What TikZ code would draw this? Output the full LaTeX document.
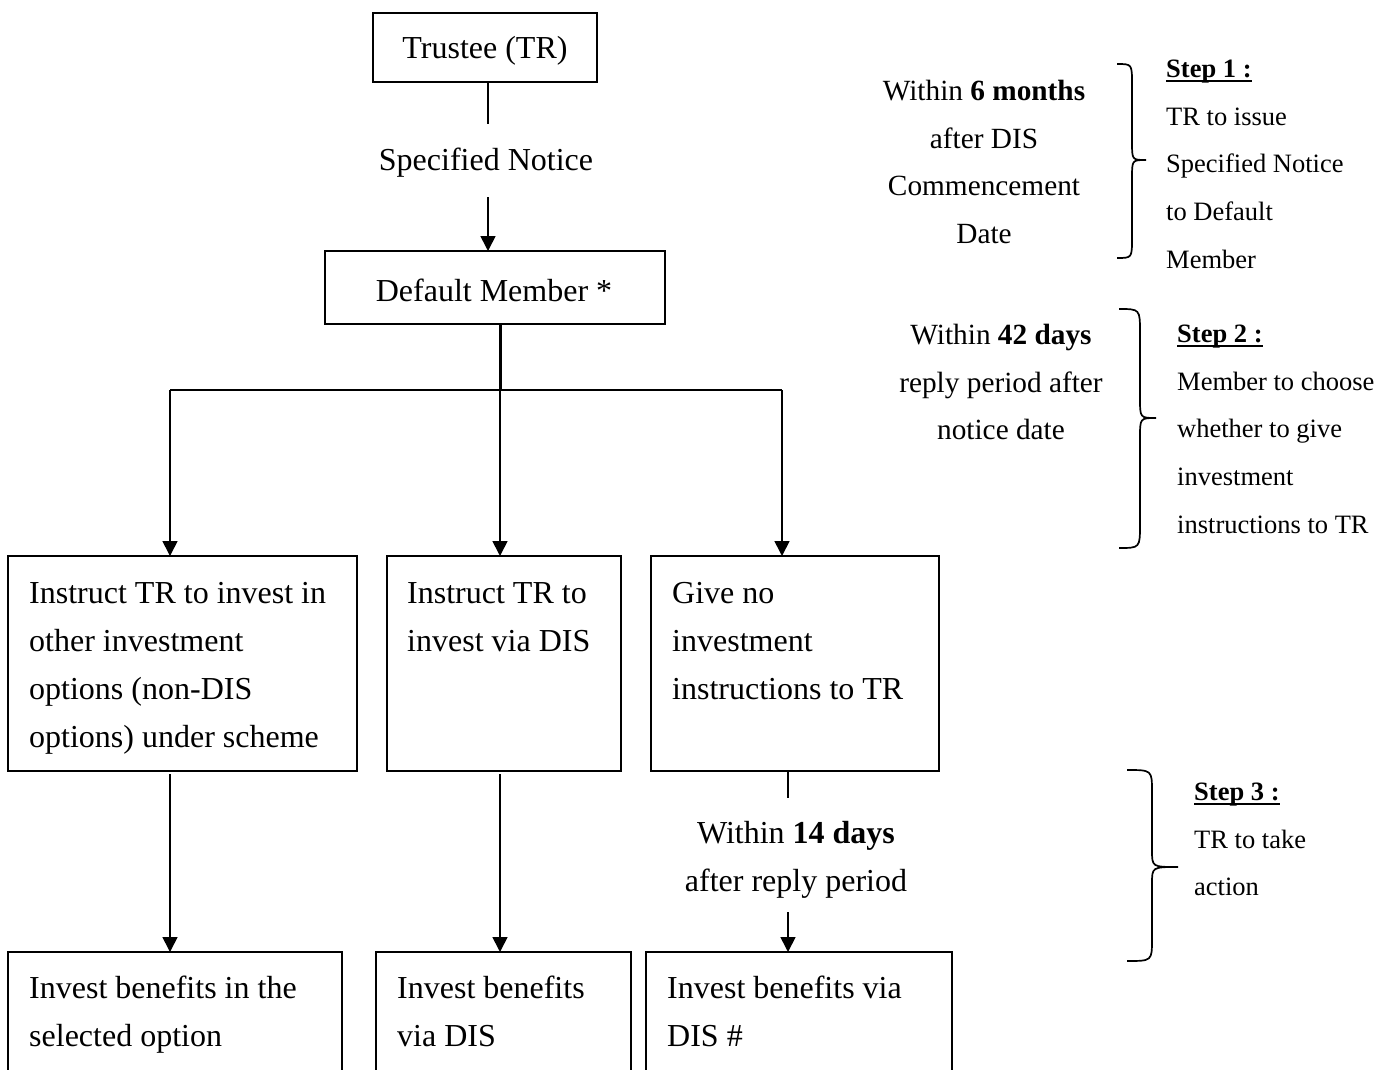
\documentclass[tikz,border=0pt]{standalone}
\usepackage{fontspec}
\setmainfont{Liberation Serif}
\usetikzlibrary{arrows.meta}
\newcommand\mystrutA{\rule{0pt}{24pt}}
\newcommand\stepul[1]{\setbox0=\hbox{#1}\rlap{\rule[-4.5pt]{\wd0}{1.5pt}}\box0}
\newcommand\mybrace[8]{\draw[bracest] (#1,#4) .. controls (#2,#4) .. (#2,#4+#7) -- (#2,#5-#8) .. controls (#2,#5) .. (#3,#5) .. controls (#2,#5) .. (#2,#5+#8) -- (#2,#6-#7) .. controls (#2,#6) .. (#1,#6);}
\tikzset{
  boxst/.style={draw, line width=1.8pt, inner sep=0pt, outer sep=0pt, rectangle},
  lnst/.style={line width=1.7pt},
  thickln/.style={line width=3pt},
  arrst/.style={line width=1.7pt, -{Triangle[width=15pt,length=15pt]}},
  bracest/.style={line width=1.7pt},
  maintxt/.style={font=\fontsize{32}{48}\selectfont, inner sep=0pt, align=left},
  ctrtxt/.style={font=\fontsize{32}{48}\selectfont, inner sep=0pt, align=center},
  sidetxt/.style={font=\fontsize{29.3}{47.8}\selectfont, inner sep=0pt, align=center},
  steptxt/.style={font=\fontsize{26.5}{47.8}\selectfont, inner sep=0pt, align=left}
}
\begin{document}
\begin{tikzpicture}[x=1pt,y=-1pt]
\useasboundingbox (0,0) rectangle (1392,1070);
\clip (0,0) rectangle (1392,1070);
\fill[white] (0,0) rectangle (1392,1070);

% boxes
\node[boxst, minimum width=224pt, minimum height=69pt] (tr) at (485,47.5) {};
\node[boxst, minimum width=340pt, minimum height=73pt] (dm) at (495,287.5) {};
\node[boxst, minimum width=349pt, minimum height=215pt] (bA) at (182.5,663.5) {};
\node[boxst, minimum width=234pt, minimum height=215pt] (bB) at (504,663.5) {};
\node[boxst, minimum width=288pt, minimum height=215pt] (bC) at (795,663.5) {};
\node[boxst, minimum width=334pt, minimum height=148pt] (bD) at (175,1026) {};
\node[boxst, minimum width=255pt, minimum height=148pt] (bE) at (503.5,1026) {};
\node[boxst, minimum width=306pt, minimum height=148pt] (bF) at (799,1026) {};

% texts in boxes
\node[maintxt, anchor=base] (ttr) at (485,59) {Trustee (TR)};
\node[maintxt, anchor=base] (tdm) at (494,301) {Default Member *};
\node[maintxt, anchor=base] (sn) at (486,170) {Specified Notice};
\node[maintxt, anchor=north west] (tA) at (29,579) {\mystrutA Instruct TR to invest in\\other investment\\options (non-DIS\\options) under scheme};
\node[maintxt, anchor=north west] (tB) at (407,579) {\mystrutA Instruct TR to\\invest via DIS};
\node[maintxt, anchor=north west] (tC) at (672,579) {\mystrutA Give no\\investment\\instructions to TR};
\node[maintxt, anchor=north west] (tD) at (29,974) {\mystrutA Invest benefits in the\\selected option};
\node[maintxt, anchor=north west] (tE) at (397,974) {\mystrutA Invest benefits\\via DIS};
\node[maintxt, anchor=north west] (tF) at (667,974) {\mystrutA Invest benefits via\\DIS \#};
\node[ctrtxt, anchor=north] (w14) at (796,819) {\mystrutA Within \textbf{14 days}\\after reply period};

% side texts
\node[sidetxt, anchor=north] (w6) at (984,76) {\mystrutA Within \textbf{6 months}\\after DIS\\Commencement\\Date};
\node[sidetxt, anchor=north] (w42) at (1001,320) {\mystrutA Within \textbf{42 days}\\reply period after\\notice date};
\node[steptxt, anchor=north west] (s1) at (1166,53) {\mystrutA\stepul{\textbf{Step 1 :}}\\TR to issue\\Specified Notice\\to Default\\Member};
\node[steptxt, anchor=north west] (s2) at (1177,318) {\mystrutA\stepul{\textbf{Step 2 :}}\\Member to choose\\whether to give\\investment\\instructions to TR};
\node[steptxt, anchor=north west] (s3) at (1194,776) {\mystrutA\stepul{\textbf{Step 3 :}}\\TR to take\\action};

% braces
\mybrace{1117}{1132}{1146}{64}{160}{258}{20}{18}
\mybrace{1119}{1140}{1156}{309}{418}{548}{24}{20}
\mybrace{1127}{1152}{1178}{770}{867}{961}{22}{17}

% connectors
\coordinate (p1) at (488,124);
\coordinate (p2) at (488,197);
\draw[lnst] (tr.south -| p1) -- (p1);
\draw[arrst] (p2) -- (dm.north -| p2);
\coordinate (j) at (500,390);
\coordinate (jl) at (170,390);
\coordinate (jr) at (782,390);
\draw[thickln] (dm.south -| j) -- (j);
\draw[lnst] (jl) -- (jr);
\draw[arrst] (jl) -- (bA.north -| jl);
\draw[arrst] (j) -- (bB.north -| j);
\draw[arrst] (jr) -- (bC.north -| jr);
\coordinate (a1) at (170,774);
\coordinate (b1) at (500,774);
\draw[arrst] (a1) -- (bD.north -| a1);
\draw[arrst] (b1) -- (bE.north -| b1);
\coordinate (q1) at (788,798);
\coordinate (q2) at (788,912);
\draw[lnst] (bC.south -| q1) -- (q1);
\draw[arrst] (q2) -- (bF.north -| q2);
\end{tikzpicture}
\end{document}
